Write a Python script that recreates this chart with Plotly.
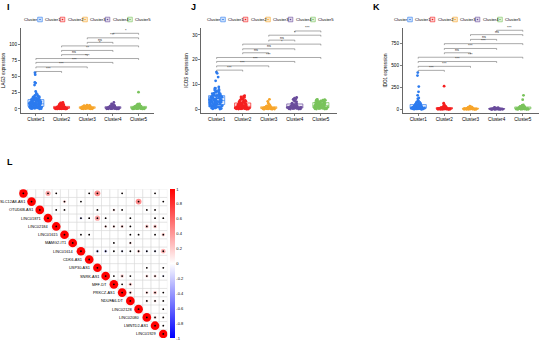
import plotly.graph_objects as go
import math

W, H = 550, 343
FONT = "Liberation Sans"

# ---------------- data ----------------
clusters = ["Cluster1", "Cluster2", "Cluster3", "Cluster4", "Cluster5"]
cluster_colors = ["#2C7BEF", "#F51F1F", "#F7A52A", "#6A4C9C", "#79C35B"]

lag3_c1 = [56, 53, 41, 40, 37, 27, 24, 22, 21, 20, 19, 19, 18, 18, 17, 17, 16, 16, 15, 15, 15, 14, 14,
           14, 13, 13, 13, 12, 12, 12, 11, 11, 11, 10, 10, 10, 10, 9, 9, 9, 9, 8, 8, 8, 8, 8, 7, 7, 7,
           7, 7, 6, 6, 6, 6, 6, 5, 5, 5, 5, 5, 4, 4, 4, 4, 4, 3, 3, 3, 3, 3, 2, 2, 2, 2, 2, 1.5, 1.5,
           1, 1, 1, 0.5, 0.5, 0.2]
lag3_c2 = [10, 9.5, 9, 8.5, 8, 7.5, 7, 6.5, 6, 6, 5.5, 5, 5, 4.5, 4.5, 4, 4, 4, 3.5, 3.5, 3.5, 3, 3, 3,
           3, 2.5, 2.5, 2.5, 2.5, 2, 2, 2, 2, 2, 1.8, 1.8, 1.5, 1.5, 1.5, 1.5, 1.2, 1.2, 1, 1, 1, 1, 1,
           0.8, 0.8, 0.8, 0.6, 0.6, 0.5, 0.5, 0.5, 0.4, 0.3, 0.3, 0.2, 0.2, 0.1, 0.1]
lag3_c3 = [6, 5.5, 5, 4.8, 4.5, 4.2, 4, 4, 3.8, 3.5, 3.5, 3.2, 3, 3, 3, 2.8, 2.5, 2.5, 2.5, 2.2, 2, 2, 2,
           2, 1.8, 1.6, 1.5, 1.5, 1.5, 1.2, 1.2, 1, 1, 1, 0.9, 0.8, 0.8, 0.6, 0.5, 0.4, 0.3, 0.2]
lag3_c4 = [10, 8, 7, 6, 5.5, 5, 4.5, 4, 3.8, 3.5, 3, 3, 2.8, 2.5, 2.5, 2.2, 2, 2, 2, 1.8, 1.6, 1.5, 1.5,
           1.2, 1.2, 1, 1, 1, 0.8, 0.7, 0.6, 0.5, 0.5, 0.4, 0.3, 0.2, 0.1]
lag3_c5 = [26, 8, 7.5, 7, 6.5, 6, 5.5, 5, 4.5, 4.5, 4, 4, 3.5, 3.5, 3, 3, 3, 2.5, 2.5, 2.5, 2, 2, 2, 2,
           1.8, 1.5, 1.5, 1.5, 1.2, 1.2, 1, 1, 1, 0.8, 0.7, 0.6, 0.5, 0.5, 0.4, 0.3, 0.2, 0.1]

icos_c1 = [15, 14.5, 13, 11.5, 9, 8.5, 8, 7.8, 7.5, 7.2, 7, 6.8, 6.5, 6.3, 6.2, 6, 6, 5.8, 5.6, 5.5, 5.5,
           5.3, 5.2, 5, 5, 4.9, 4.8, 4.6, 4.5, 4.5, 4.3, 4.2, 4, 4, 4, 3.9, 3.8, 3.6, 3.5, 3.5, 3.5, 3.3,
           3.2, 3, 3, 3, 3, 2.9, 2.8, 2.6, 2.5, 2.5, 2.5, 2.3, 2.2, 2, 2, 2, 2, 1.9, 1.8, 1.6, 1.5, 1.5,
           1.5, 1.3, 1.2, 1.1, 1, 1, 1, 0.9, 0.8, 0.6, 0.5, 0.5, 0.3, 0.2, 0.1]
icos_c2 = [5.5, 5.2, 5, 4.8, 4.5, 4.2, 4, 3.8, 3.6, 3.5, 3.3, 3.2, 3, 3, 2.8, 2.7, 2.5, 2.5, 2.3, 2.2, 2.1,
           2, 2, 2, 1.9, 1.8, 1.7, 1.5, 1.5, 1.5, 1.4, 1.3, 1.2, 1.2, 1.1, 1, 1, 1, 1, 0.9, 0.9, 0.8, 0.8,
           0.8, 0.7, 0.7, 0.6, 0.6, 0.6, 0.5, 0.5, 0.5, 0.5, 0.4, 0.4, 0.4, 0.3, 0.3, 0.3, 0.2, 0.2,
           0.2, 0.1, 0.1, 0.05]
icos_c3 = [4, 3.2, 2.5, 2, 1.6, 1.4, 1.3, 1.2, 1.1, 1, 0.9, 0.9, 0.8, 0.8, 0.7, 0.7, 0.6, 0.6, 0.6, 0.5,
           0.5, 0.5, 0.4, 0.4, 0.4, 0.3, 0.3, 0.3, 0.3, 0.2, 0.2, 0.2, 0.2, 0.1, 0.1, 0.1, 0.05]
icos_c4 = [4.8, 4.5, 4.2, 4, 3.5, 3.2, 3, 2.5, 2.3, 2.2, 2, 1.8, 1.6, 1.5, 1.4, 1.3, 1.2, 1.1, 1, 1, 0.9,
           0.9, 0.8, 0.8, 0.7, 0.7, 0.6, 0.6, 0.5, 0.5, 0.5, 0.4, 0.4, 0.3, 0.3, 0.2, 0.2, 0.1, 0.1]
icos_c5 = [4, 3.9, 3.8, 3.7, 3.6, 3.5, 3.4, 3.3, 3.2, 3.1, 3, 3, 2.9, 2.8, 2.7, 2.6, 2.5, 2.5, 2.4, 2.3,
           2.2, 2.1, 2, 2, 2, 1.9, 1.8, 1.7, 1.6, 1.5, 1.5, 1.5, 1.4, 1.3, 1.2, 1.2, 1.1, 1, 1, 1, 0.9,
           0.9, 0.8, 0.8, 0.7, 0.7, 0.6, 0.6, 0.5, 0.5, 0.4, 0.4, 0.3, 0.3, 0.2, 0.2, 0.1, 0.1]

ido1_c1 = [420, 385, 260, 200, 160, 130, 120, 100, 95, 85, 80, 75, 70, 65, 60, 58, 55, 52, 50, 48, 45, 42,
           40, 40, 38, 36, 35, 33, 32, 30, 30, 28, 27, 25, 25, 24, 22, 22, 20, 20, 20, 19, 18, 17, 16,
           15, 15, 15, 14, 13, 12, 12, 11, 10, 10, 10, 9, 8, 8, 7, 6, 5, 5, 4, 3, 2, 1]
ido1_c2 = [265, 70, 55, 45, 40, 35, 32, 28, 25, 24, 22, 20, 19, 18, 16, 15, 14, 13, 12, 11, 10, 10, 9, 9,
           8, 8, 7, 7, 6, 6, 5, 5, 5, 4, 4, 4, 3, 3, 3, 2, 2, 2, 1, 1, 0.5]
ido1_c3 = [35, 28, 25, 22, 20, 18, 16, 15, 13, 12, 11, 10, 9, 9, 8, 8, 7, 7, 6, 6, 5, 5, 5, 4, 4, 4, 3, 3,
           3, 2, 2, 2, 1, 1, 0.5]
ido1_c4 = [22, 18, 15, 13, 12, 11, 10, 9, 9, 8, 8, 7, 7, 6, 6, 5, 5, 5, 4, 4, 4, 3, 3, 3, 2, 2, 2, 2, 1, 1,
           1, 0.5]
ido1_c5 = [160, 110, 50, 45, 42, 38, 35, 32, 30, 28, 25, 23, 22, 20, 19, 18, 16, 15, 14, 12, 11, 10, 9, 9,
           8, 7, 6, 6, 5, 5, 4, 4, 3, 3, 2, 2, 1, 1, 0.5]

comparisons = [(0, 1), (0, 2), (0, 3), (0, 4), (1, 2), (1, 3), (1, 4), (2, 3), (2, 4), (3, 4)]
lag3_bracket_y = [58, 65, 72, 78, 84, 90.5, 97.5, 103, 110, 117]
icos_bracket_y = [15.8, 17.5, 19.3, 20.9, 22.8, 24.4, 26.3, 27.9, 29.9, 31.6]
ido1_bracket_y = [445, 491, 546, 595, 646, 695, 750, 799, 853, 903]
lag3_sig = ["***", "***", "***", "***", "ns", "**", "*", "ns", "***", "*"]
icos_sig = ["***", "***", "***", "***", "ns", "ns", "*", "ns", "*", "***"]
ido1_sig = ["***", "***", "***", "***", "ns", "***", "***", "ns", "ns", "***"]

lag3_ticks = [0, 25, 50, 75, 100]
icos_ticks = [0, 10, 20, 30]
ido1_ticks = [0, 250, 500, 750]

genes = ["PD-L1", "SLC12A8-AS1", "OTUD6B-AS1", "LINC01871", "LINC02184", "LINC01615", "MAMG2-IT1",
         "LINC01614", "CDK6-AS1", "USP30-AS1", "SNRK-AS1", "MFF-DT", "PRKCZ-AS1", "NDUFA6-DT",
         "LINC02128", "LINC02080", "LMNTD2-AS1", "LINC01929"]
corr_i = [0, 0, 0, 0, 0, 0,
          1, 1, 1, 1,
          2, 2, 2, 2, 2, 2, 2,
          3, 3, 3, 3, 3, 3, 3,
          4, 4, 4, 4, 4, 4,
          5, 5, 5, 5, 5, 5,
          6, 6,
          7, 7, 7, 7, 7, 7, 7, 7, 7,
          9, 9,
          10, 10, 10, 10, 10, 10,
          11, 11,
          12, 12, 12, 12,
          13, 13, 13,
          14,
          15, 15,
          16]
corr_j = [3, 4, 8, 9, 12, 16,
          5, 7, 14, 17,
          4, 5, 9, 11, 12, 15, 16,
          7, 8, 9, 10, 13, 16, 17,
          10, 11, 12, 13, 15, 16,
          7, 8, 13, 14, 16, 17,
          11, 13,
          9, 10, 11, 12, 13, 14, 15, 16, 17,
          15, 17,
          11, 12, 13, 15, 16, 17,
          12, 13,
          13, 15, 16, 17,
          15, 16, 17,
          17,
          16, 17,
          17]
corr_r = [0.35, 0.06, 0.06, 0.45, 0.06, 0.06,
          0.15, 0.05, 0.45, 0.06,
          0.06, 0.06, 0.06, 0.12, 0.06, 0.06, 0.06,
          -0.12, 0.06, 0.35, 0.06, 0.05, 0.06, 0.06,
          0.12, 0.12, 0.15, 0.06, 0.2, 0.2,
          0.06, 0.06, 0.06, 0.06, 0.06, 0.18,
          0.06, 0.12,
          -0.15, -0.15, 0.05, -0.1, 0.05, 0.15, -0.1, -0.1, 0.3,
          0.06, 0.06,
          0.06, 0.18, 0.06, 0.15, 0.15, -0.08,
          0.06, 0.18,
          0.18, 0.15, 0.2, 0.06,
          0.12, 0.12, 0.06,
          0.06,
          0.15, 0.06,
          0.06]
colorbar_ticks = [1, 0.8, 0.6, 0.4, 0.2, 0, -0.2, -0.4, -0.6, -0.8, -1]

# ---------------- helpers ----------------
def px(x):
    return x / W

def py(y):
    return 1 - y / H

def rgba(hexc, a):
    h = hexc.lstrip("#")
    return "rgba(%d,%d,%d,%.2f)" % (int(h[0:2], 16), int(h[2:4], 16), int(h[4:6], 16), a)

fig = go.Figure()
shapes = []
annotations = []

panels = [
    dict(key="", data=[lag3_c1, lag3_c2, lag3_c3, lag3_c4, lag3_c5], brk=lag3_bracket_y, sig=lag3_sig,
         ticks=lag3_ticks, yr=[-6.2, 125.2], title="LAG3 expression", xd=[20.5, 154.0],
         letter="I", lx=5.0, legx=22.0),
    dict(key="2", data=[icos_c1, icos_c2, icos_c3, icos_c4, icos_c5], brk=icos_bracket_y, sig=icos_sig,
         ticks=icos_ticks, yr=[-1.5, 32.8], title="ICOS expression", xd=[201.0, 336.5],
         letter="J", lx=188.5, legx=205.0),
    dict(key="3", data=[ido1_c1, ido1_c2, ido1_c3, ido1_c4, ido1_c5], brk=ido1_bracket_y, sig=ido1_sig,
         ticks=ido1_ticks, yr=[-42, 929], title="IDO1 expression", xd=[402.5, 538.5],
         letter="K", lx=370.5, legx=392.0),
]

for p in panels:
    xa = "x" + p["key"]
    ya = "y" + p["key"]
    for k, (name, col, vals) in enumerate(zip(clusters, cluster_colors, p["data"])):
        fig.add_trace(go.Box(
            x=[name] * len(vals), y=vals, name=name, xaxis=xa, yaxis=ya,
            boxpoints="all", jitter=0.95, pointpos=0, width=0.62, whiskerwidth=0,
            marker=dict(color=col, size=2.8, opacity=1, line=dict(width=0)),
            line=dict(color=col, width=0.7), fillcolor=rgba(col, 0.12),
            showlegend=False, hoverinfo="skip"))
    # brackets
    yspan = p["yr"][1] - p["yr"][0]
    tip = yspan * 1.4 / 85.0
    for (a, b), lvl, lab in zip(comparisons, p["brk"], p["sig"]):
        shapes.append(dict(type="path", xref=xa, yref=ya,
                           path="M %d,%f L %d,%f L %d,%f L %d,%f" % (a, lvl - tip, a, lvl, b, lvl, b, lvl - tip),
                           line=dict(color="#555555", width=0.5)))
        annotations.append(dict(x=(a + b) / 2, y=lvl, xref=xa, yref=ya, text=lab, showarrow=False,
                                yanchor="bottom", yshift=-1.5, font=dict(size=3.8, color="#222222", family=FONT)))
    axis_x = dict(domain=[px(p["xd"][0]), px(p["xd"][1])], range=[-0.6, 4.6], type="category",
                  categoryorder="array", categoryarray=clusters, showline=True, linecolor="black",
                  linewidth=0.6, ticks="outside", ticklen=2, tickwidth=0.5, tickcolor="black",
                  tickfont=dict(size=4.6, color="black", family=FONT), showgrid=False, zeroline=False,
                  anchor=ya, fixedrange=True)
    axis_y = dict(domain=[py(113), py(28)], range=p["yr"], tickvals=p["ticks"], showline=True,
                  linecolor="black", linewidth=0.6, ticks="outside", ticklen=2, tickwidth=0.5,
                  tickcolor="black", tickfont=dict(size=4.6, color="black", family=FONT),
                  showgrid=False, zeroline=False, anchor=xa, fixedrange=True,
                  title=dict(text=p["title"], font=dict(size=4.6, color="black", family=FONT), standoff=3))
    fig.layout["xaxis" + p["key"]] = axis_x
    fig.layout["yaxis" + p["key"]] = axis_y
    # panel letter
    annotations.append(dict(x=px(p["lx"]), y=py(7.5), xref="paper", yref="paper", text="<b>%s</b>" % p["letter"],
                            showarrow=False, xanchor="left", yanchor="middle",
                            font=dict(size=9, color="black", family=FONT)))
    # legend (manual)
    ly = 19.5
    annotations.append(dict(x=px(p["legx"]), y=py(ly), xref="paper", yref="paper", text="Cluster",
                            showarrow=False, xanchor="left", yanchor="middle",
                            font=dict(size=4.2, color="black", family=FONT)))
    for k, (name, col) in enumerate(zip(clusters, cluster_colors)):
        cx = p["legx"] + 18 + 22.5 * k
        shapes.append(dict(type="rect", xref="paper", yref="paper", x0=px(cx - 2.3), x1=px(cx + 2.3),
                           y0=py(ly + 2.3), y1=py(ly - 2.3), line=dict(color=col, width=0.6),
                           fillcolor=rgba(col, 0.2)))
        shapes.append(dict(type="circle", xref="paper", yref="paper", x0=px(cx - 0.8), x1=px(cx + 0.8),
                           y0=py(ly + 0.8), y1=py(ly - 0.8), line=dict(width=0), fillcolor=col))
        annotations.append(dict(x=px(cx + 3.3), y=py(ly), xref="paper", yref="paper", text=name,
                                showarrow=False, xanchor="left", yanchor="middle",
                                font=dict(size=4.2, color="black", family=FONT)))

# ---------------- panel L: correlation plot ----------------
n = len(genes)
cell_x0, cell_x1 = 19.2, 167.4
cell_y0, cell_y1 = 189.2, 338.1
fig.layout["xaxis4"] = dict(domain=[px(cell_x0), px(cell_x1)], range=[-0.5, n - 0.5], visible=False,
                            anchor="y4", fixedrange=True)
fig.layout["yaxis4"] = dict(domain=[py(cell_y1), py(cell_y0)], range=[n - 0.5, -0.5], visible=False,
                            anchor="x4", fixedrange=True)

for i in range(n):
    for j in range(i, n):
        shapes.append(dict(type="rect", xref="x4", yref="y4", x0=j - 0.5, x1=j + 0.5, y0=i - 0.5, y1=i + 0.5,
                           line=dict(color="#D8D8D8", width=0.4), layer="below"))

all_x = list(range(n)) + corr_j
all_y = list(range(n)) + corr_i
all_r = [1.0] * n + corr_r
cell_px = (cell_x1 - cell_x0) / n
sizes = [1.05 * cell_px * math.sqrt(abs(r)) for r in all_r]
cscale = [[0, "#0000FF"], [0.5, "#FFFFFF"], [1, "#FF0000"]]
fig.add_trace(go.Scatter(
    x=all_x, y=all_y, xaxis="x4", yaxis="y4", mode="markers", showlegend=False, hoverinfo="skip",
    marker=dict(size=sizes, color=all_r, colorscale=cscale, cmin=-1, cmax=1, line=dict(width=0),
                opacity=1, showscale=True,
                colorbar=dict(x=px(170), xanchor="left", xpad=0, ypad=0, y=py(263.6), yanchor="middle",
                              len=149 / H, lenmode="fraction", thickness=4.5, thicknessmode="pixels",
                              outlinewidth=0, tickvals=colorbar_ticks,
                              ticktext=[("%g" % t) for t in colorbar_ticks],
                              ticks="", tickfont=dict(size=4, color="black", family=FONT)))))
fig.add_trace(go.Scatter(
    x=all_x, y=all_y, xaxis="x4", yaxis="y4", mode="markers", showlegend=False, hoverinfo="skip",
    marker=dict(size=1.8, color="black", line=dict(width=0))))

for i, g in enumerate(genes):
    annotations.append(dict(x=i - 0.6, y=i, xref="x4", yref="y4", text=g, showarrow=False,
                            xanchor="right", yanchor="middle", font=dict(size=3.9, color="black", family=FONT)))
    annotations.append(dict(x=i, y=-0.6, xref="x4", yref="y4", text=g, showarrow=False, textangle=-90,
                            xanchor="center", yanchor="bottom", font=dict(size=3.9, color="black", family=FONT)))

annotations.append(dict(x=px(5.0), y=py(161.5), xref="paper", yref="paper", text="<b>L</b>", showarrow=False,
                        xanchor="left", yanchor="middle", font=dict(size=9, color="black", family=FONT)))

fig.update_layout(width=W, height=H, margin=dict(l=0, r=0, t=0, b=0), paper_bgcolor="white",
                  plot_bgcolor="white", boxmode="overlay", shapes=shapes, annotations=annotations,
                  font=dict(family=FONT, color="black"))

fig.write_html("out.html", config={"displayModeBar": False, "staticPlot": True},
               post_script="document.body.style.margin='0';document.body.style.overflow='hidden';")
